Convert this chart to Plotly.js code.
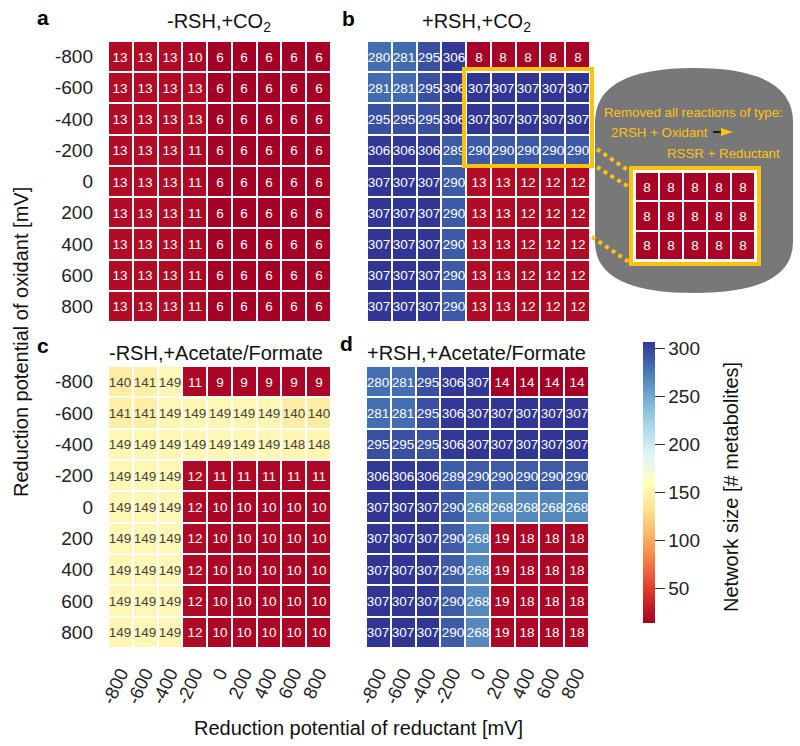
<!DOCTYPE html>
<html><head><meta charset="utf-8">
<script src="https://cdn.plot.ly/plotly-3.0.1.min.js"></script>
<style>html,body{margin:0;padding:0;background:#fff}</style>
</head><body>
<div id="chart" style="width:800px;height:746px"></div>
<script>
// ---- data ----
const reductant = [-800,-600,-400,-200,0,200,400,600,800];   // columns
const oxidant   = [-800,-600,-400,-200,0,200,400,600,800];   // rows
const panelA = [
  [13,13,13,10,6,6,6,6,6],
  [13,13,13,13,6,6,6,6,6],
  [13,13,13,13,6,6,6,6,6],
  [13,13,13,11,6,6,6,6,6],
  [13,13,13,11,6,6,6,6,6],
  [13,13,13,11,6,6,6,6,6],
  [13,13,13,11,6,6,6,6,6],
  [13,13,13,11,6,6,6,6,6],
  [13,13,13,11,6,6,6,6,6]
];
const panelB = [
  [280,281,295,306,8,8,8,8,8],
  [281,281,295,306,307,307,307,307,307],
  [295,295,295,306,307,307,307,307,307],
  [306,306,306,289,290,290,290,290,290],
  [307,307,307,290,13,13,12,12,12],
  [307,307,307,290,13,13,12,12,12],
  [307,307,307,290,13,13,12,12,12],
  [307,307,307,290,13,13,12,12,12],
  [307,307,307,290,13,13,12,12,12]
];
const panelC = [
  [140,141,149,11,9,9,9,9,9],
  [141,141,149,149,149,149,149,140,140],
  [149,149,149,149,149,149,149,148,148],
  [149,149,149,12,11,11,11,11,11],
  [149,149,149,12,10,10,10,10,10],
  [149,149,149,12,10,10,10,10,10],
  [149,149,149,12,10,10,10,10,10],
  [149,149,149,12,10,10,10,10,10],
  [149,149,149,12,10,10,10,10,10]
];
const panelD = [
  [280,281,295,306,307,14,14,14,14],
  [281,281,295,306,307,307,307,307,307],
  [295,295,295,306,307,307,307,307,307],
  [306,306,306,289,290,290,290,290,290],
  [307,307,307,290,268,268,268,268,268],
  [307,307,307,290,268,19,18,18,18],
  [307,307,307,290,268,19,18,18,18],
  [307,307,307,290,268,19,18,18,18],
  [307,307,307,290,268,19,18,18,18]
];
// inset: panel b region with thiol redox reactions removed
const insetX = [0,200,400,600,800];
const insetY = [-600,-400,-200];
const insetZ = [
  [8,8,8,8,8],
  [8,8,8,8,8],
  [8,8,8,8,8]
];
const panelTitles = ['-RSH,+CO<sub>2</sub>','+RSH,+CO<sub>2</sub>','-RSH,+Acetate/Formate','+RSH,+Acetate/Formate'];
const panelLetters = ['a','b','c','d'];
const cbTicks = [50,100,150,200,250,300];

// ---- layout helpers ----
const W = 800, H = 746;
const px = v => v / W;
const py = v => 1 - v / H;
const FONT = 'Liberation Sans, Arial, Helvetica, sans-serif';
const GOLD = '#ffc20e';
const colorscale = [[0,'#a50026'],[0.1,'#d73027'],[0.2,'#f46d43'],[0.3,'#fdae61'],[0.4,'#fee090'],[0.5,'#ffffbf'],[0.6,'#e0f3f8'],[0.7,'#abd9e9'],[0.8,'#74add1'],[0.9,'#4575b4'],[1,'#313695']];
const ZMIN = 6, ZMAX = 307;

function hm(z, x, y, xa, ya, extra) {
  return Object.assign({
    type: 'heatmap', z: z, x: x, y: y, xaxis: xa, yaxis: ya,
    colorscale: colorscale, zmin: ZMIN, zmax: ZMAX, showscale: false,
    xgap: 2, ygap: 2, texttemplate: '%{z}',
    textfont: {family: FONT, size: 13.5}, hoverinfo: 'z'
  }, extra || {});
}

const data = [
  hm(panelA, reductant, oxidant, 'x', 'y'),
  hm(panelB, reductant, oxidant, 'x2', 'y2'),
  hm(panelC, reductant, oxidant, 'x3', 'y3'),
  hm(panelD, reductant, oxidant, 'x4', 'y4', {
    zmin: 14, zmax: 307, showscale: true,
    colorbar: {
      x: px(643), xanchor: 'left', xpad: 0, thickness: 12, thicknessmode: 'pixels',
      y: py(623), yanchor: 'bottom', ypad: 0, len: 281 / H, lenmode: 'fraction',
      outlinewidth: 0, ticks: 'outside', ticklen: 10, tickwidth: 1.3, tickcolor: '#333',
      tickvals: cbTicks, tickfont: {family: FONT, size: 19, color: '#222'}
    }
  }),
  hm(insetZ, insetX, insetY, 'x5', 'y5')
];

const yTickFont = {family: FONT, size: 19, color: '#222'};
const xTickFont = {family: FONT, size: 18.5, color: '#222'};
function xax(d0, d1, anchor, labels) {
  return {domain: [px(d0), px(d1)], anchor: anchor, range: [-900, 900], showgrid: false, zeroline: false,
    showline: false, ticks: '', tickvals: reductant, ticktext: reductant.map(String), tickangle: -65,
    showticklabels: labels, tickfont: xTickFont, ticklabelstandoff: 10, fixedrange: true};
}
function yax(d0, d1, anchor, labels) {
  return {domain: [py(d1), py(d0)], anchor: anchor, range: [900, -900], showgrid: false, zeroline: false,
    showline: false, ticks: '', tickvals: oxidant, ticktext: oxidant.map(String),
    showticklabels: labels, tickfont: yTickFont, ticklabelstandoff: 14, fixedrange: true};
}

const shapes = [];
// grey rounded panel behind inset
shapes.push({type: 'path', xref: 'paper', yref: 'paper', layer: 'below',
  path: `M ${px(595)},${py(122)} Q ${px(595)},${py(68)} ${px(694)},${py(68)} Q ${px(793)},${py(68)} ${px(793)},${py(122)} L ${px(793)},${py(242)} Q ${px(793)},${py(293)} ${px(694)},${py(293)} Q ${px(595)},${py(293)} ${px(595)},${py(242)} Z`,
  fillcolor: '#787878', line: {width: 0}});
// inset frame (white fill behind cells, gold border)
shapes.push({type: 'rect', xref: 'paper', yref: 'paper', layer: 'below',
  x0: px(631), x1: px(759), y0: py(168), y1: py(264), fillcolor: '#ffffff', line: {color: GOLD, width: 4}});
shapes.push({type: 'rect', xref: 'paper', yref: 'paper', layer: 'above',
  x0: px(631), x1: px(759), y0: py(168), y1: py(264), fillcolor: 'rgba(0,0,0,0)', line: {color: GOLD, width: 4}});
// highlight box on panel b
shapes.push({type: 'rect', xref: 'paper', yref: 'paper', layer: 'above',
  x0: px(464), x1: px(592), y0: py(69), y1: py(166), fillcolor: 'rgba(0,0,0,0)', line: {color: GOLD, width: 4}});
// dotted connectors
[[597,149,629,171],[597,167,629,187],[592,237,629,262]].forEach(l => shapes.push({
  type: 'line', xref: 'paper', yref: 'paper', layer: 'above',
  x0: px(l[0]), y0: py(l[1]), x1: px(l[2]), y1: py(l[3]), line: {color: GOLD, width: 4, dash: 'dot'}}));
// arrow
shapes.push({type: 'line', xref: 'paper', yref: 'paper', x0: px(713), y0: py(132), x1: px(727), y1: py(132), line: {color: '#000', width: 1.5}});
shapes.push({type: 'path', xref: 'paper', yref: 'paper',
  path: `M ${px(721)},${py(128)} L ${px(733)},${py(132)} L ${px(721)},${py(136)} Z`, fillcolor: GOLD, line: {width: 0}});

const annotations = [];
const titlePos = [[219, 22], [477, 22], [216, 353], [476, 353]];
panelTitles.forEach((t, i) => annotations.push({text: t, xref: 'paper', yref: 'paper',
  x: px(titlePos[i][0]), y: py(titlePos[i][1]), xanchor: 'center', yanchor: 'middle', showarrow: false,
  font: {family: FONT, size: 20, color: '#111'}}));
const letterPos = [[43, 17], [348, 18], [43, 345], [346, 343]];
panelLetters.forEach((t, i) => annotations.push({text: '<b>' + t + '</b>', xref: 'paper', yref: 'paper',
  x: px(letterPos[i][0]), y: py(letterPos[i][1]), xanchor: 'center', yanchor: 'middle', showarrow: false,
  font: {family: FONT, size: 21, color: '#000'}}));
annotations.push({text: 'Reduction potential of oxidant [mV]', xref: 'paper', yref: 'paper', x: px(21), y: py(342),
  textangle: -90, showarrow: false, xanchor: 'center', yanchor: 'middle', font: {family: FONT, size: 20, color: '#111'}});
annotations.push({text: 'Reduction potential of reductant [mV]', xref: 'paper', yref: 'paper', x: px(358), y: py(728),
  showarrow: false, xanchor: 'center', yanchor: 'middle', font: {family: FONT, size: 20, color: '#111'}});
annotations.push({text: 'Network size [# metabolites]', xref: 'paper', yref: 'paper', x: px(731), y: py(487),
  textangle: -90, showarrow: false, xanchor: 'center', yanchor: 'middle', font: {family: FONT, size: 20, color: '#111'}});
// inset labels
[['Removed all reactions of type:', 602, 113], ['2RSH + Oxidant', 609, 132], ['RSSR + Reductant', 665, 153]].forEach(a =>
  annotations.push({text: a[0], xref: 'paper', yref: 'paper', x: px(a[1]), y: py(a[2]), xanchor: 'left', yanchor: 'middle',
    showarrow: false, font: {family: FONT, size: 13.3, color: GOLD}}));

const layout = {
  width: W, height: H, margin: {l: 0, r: 0, t: 0, b: 0},
  paper_bgcolor: '#ffffff', plot_bgcolor: 'rgba(0,0,0,0)', showlegend: false,
  font: {family: FONT},
  xaxis: xax(108, 331, 'y', false),  yaxis: yax(41, 322, 'x', true),
  xaxis2: xax(367, 590, 'y2', false), yaxis2: yax(41, 322, 'x2', false),
  xaxis3: xax(108, 331, 'y3', true),  yaxis3: yax(366, 648, 'x3', true),
  xaxis4: xax(366, 589, 'y4', true),  yaxis4: yax(366, 648, 'x4', false),
  xaxis5: {domain: [px(635), px(755)], anchor: 'y5', range: [-100, 900], visible: false, fixedrange: true},
  yaxis5: {domain: [py(260), py(172)], anchor: 'x5', range: [-100, -700], visible: false, fixedrange: true},
  shapes: shapes, annotations: annotations
};

Plotly.newPlot('chart', data, layout, {displayModeBar: false, staticPlot: true});
</script>
</body></html>
